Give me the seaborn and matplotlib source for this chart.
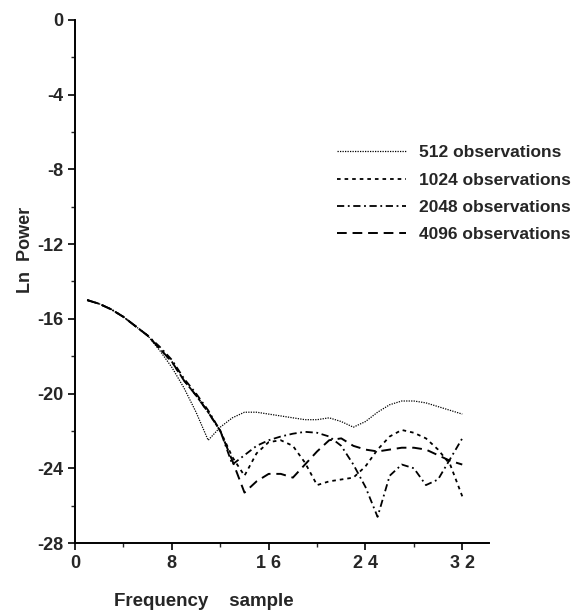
import numpy as np
import pandas as pd
import seaborn as sns
import matplotlib
matplotlib.use("Agg")
import matplotlib.pyplot as plt
from matplotlib.ticker import MultipleLocator

##############################################################################
# Data (Ln power per frequency sample)
##############################################################################
freq = list(range(1, 33))
common = [-15.0, -15.2, -15.5, -15.9, -16.4, -16.9]

obs_512 = common + [-17.7, -18.6, -19.7, -21.0, -22.5, -21.8, -21.3, -21.0,
                    -21.0, -21.1, -21.2, -21.3, -21.4, -21.4, -21.3, -21.5,
                    -21.8, -21.5, -21.0, -20.6, -20.4, -20.4, -20.5, -20.7,
                    -20.9, -21.1]
obs_1024 = common + [-17.6, -18.3, -19.3, -20.1, -21.0, -22.0, -23.4, -24.4,
                     -23.2, -22.6, -22.5, -22.8, -23.7, -24.9, -24.7, -24.6,
                     -24.5, -23.9, -23.0, -22.3, -21.95, -22.1, -22.4, -23.0,
                     -23.8, -25.5]
obs_2048 = common + [-17.5, -18.2, -19.2, -20.0, -20.9, -22.0, -23.8, -23.3,
                     -22.8, -22.5, -22.3, -22.15, -22.05, -22.1, -22.3, -22.8,
                     -23.8, -25.0, -26.6, -24.4, -23.8, -24.0, -24.9, -24.6,
                     -23.5, -22.4]
obs_4096 = common + [-17.6, -18.3, -19.3, -20.1, -21.0, -22.0, -23.6, -25.3,
                     -24.7, -24.3, -24.3, -24.5, -23.8, -23.1, -22.5, -22.4,
                     -22.8, -23.0, -23.1, -23.0, -22.9, -22.9, -23.0, -23.3,
                     -23.6, -23.8]

labels = ["512 observations", "1024 observations",
          "2048 observations", "4096 observations"]
series = [obs_512, obs_1024, obs_2048, obs_4096]

y_ticks = [0, -4, -8, -12, -16, -20, -24, -28]
x_ticks = [0, 8, 16, 24, 32]
x_ticklabels = ["0", "8", "1 6", "2 4", "3 2"]

df = pd.DataFrame({
    "freq": freq * 4,
    "power": sum(series, []),
    "series": sum([[lab] * len(freq) for lab in labels], []),
})

##############################################################################
# Plot
##############################################################################
sns.set_theme(style="ticks")
plt.rcParams["font.family"] = ["Liberation Sans", "DejaVu Sans"]
plt.rcParams["font.weight"] = "bold"
plt.rcParams["axes.unicode_minus"] = False

fig = plt.figure(figsize=(5.82, 6.12), dpi=100)
ax = fig.add_axes([0.129, 0.1127, 0.711, 0.855])

dash_map = {labels[0]: (1, 1), labels[1]: (2, 2.2),
            labels[2]: (4, 2, 1, 2), labels[3]: (5, 3)}
width_map = {labels[0]: 0.9, labels[1]: 1.3, labels[2]: 1.3, labels[3]: 1.4}

for lab in labels:
    sub = df[df["series"] == lab]
    sns.lineplot(data=sub, x="freq", y="power", ax=ax, color="black",
                 lw=width_map[lab], dashes=False, label=lab)
    ax.lines[-1].set_dashes(dash_map[lab])

ax.set_xlim(0, 34.2)
ax.set_ylim(-28, 0)
ax.set_yticks(y_ticks)
ax.set_xticks(x_ticks)
ax.set_xticklabels(x_ticklabels)
ax.yaxis.set_minor_locator(MultipleLocator(2))
ax.xaxis.set_minor_locator(MultipleLocator(4))
ax.tick_params(axis="both", which="major", length=5, width=1.2,
               labelsize=13, direction="out", color="black")
ax.tick_params(axis="both", which="minor", length=3, width=1, direction="out")
for lbl in ax.get_xticklabels() + ax.get_yticklabels():
    lbl.set_fontweight("bold")

sns.despine(ax=ax)
for side in ["left", "bottom"]:
    ax.spines[side].set_linewidth(1.4)
    ax.spines[side].set_color("black")

ax.set_xlabel("Frequency    sample", fontsize=13.5, fontweight="bold")
ax.set_ylabel("Ln  Power", fontsize=13, fontweight="bold")
ax.xaxis.set_label_coords(0.31, -0.095)
ax.yaxis.set_label_coords(-0.10, 0.56)

leg = ax.legend(loc="upper left", bbox_to_anchor=(0.595, 0.79), frameon=False,
                handlelength=4.0, handletextpad=0.7, labelspacing=0.7,
                prop={"size": 12.5, "weight": "bold"})

fig.savefig("out.png", dpi=100)
